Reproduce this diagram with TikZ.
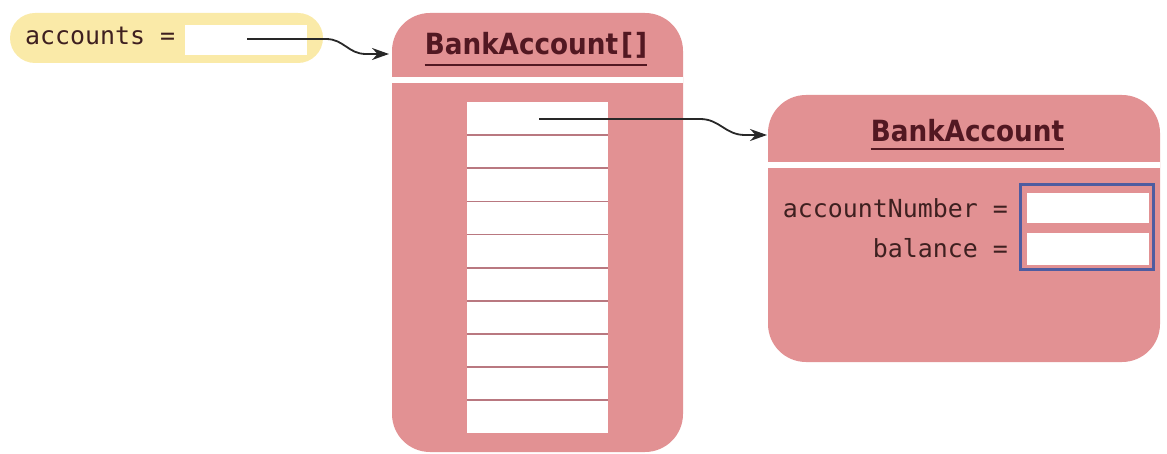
\documentclass[tikz,border=0pt]{standalone}
\usepackage{fontspec}
\usetikzlibrary{arrows.meta}
\newfontfamily\codefont{DejaVu Sans Mono}
\newfontfamily\headfont{DejaVu Sans Condensed}
\definecolor{pinkc}{RGB}{226,145,147}
\definecolor{yellowc}{RGB}{250,234,168}
\definecolor{sepc}{RGB}{185,120,128}
\definecolor{bluec}{RGB}{78,92,160}
\definecolor{txtc}{RGB}{62,32,32}
\definecolor{hdrc}{RGB}{82,24,34}
\definecolor{arrc}{RGB}{40,40,40}
\tikzset{
  objbox/.style={rectangle, rounded corners=38pt, fill=pinkc, inner sep=0pt},
  gapbar/.style={rectangle, fill=white, inner sep=0pt},
  varbox/.style={rectangle, rounded corners=25pt, fill=yellowc, inner sep=0pt},
  field/.style={rectangle, fill=white, inner sep=0pt},
  lbl/.style={font=\codefont\fontsize{24.9}{30}\selectfont, text=txtc, inner sep=0pt},
  hdr/.style={font=\headfont\bfseries\fontsize{29.2}{34}\selectfont, text=hdrc, inner sep=0pt},
  uline/.style={draw=hdrc, line width=2.2pt},
  sepline/.style={draw=sepc, line width=1.8pt},
  ptr/.style={draw=arrc, line width=1.8pt, -{Stealth[length=17pt, width=12pt]}},
}
\begin{document}
\begin{tikzpicture}[x=1pt, y=-1pt]
\useasboundingbox (0,0) rectangle (1167,454);
% variable box
\node[varbox, minimum width=313pt, minimum height=50pt] (var) at (166.5,38) {};
\node[field, minimum width=122pt, minimum height=30pt] (accval) at (246,40) {};
\node[lbl, anchor=base west] (acclbl) at (25,45) {accounts =};
% array object
\node[objbox, minimum width=291pt, minimum height=439pt] (arr) at (537.5,232.5) {};
\node[gapbar, minimum width=291pt, minimum height=6pt] (arrgap) at (537.5,80) {};
\node[hdr, anchor=base] (arrtitle) at (536,55) {BankAccount\kern3pt[\kern2pt]};
\draw[uline] ([yshift=-10pt]arrtitle.base west) -- ([yshift=-10pt]arrtitle.base east);
\foreach \i in {1,...,10}{
  \node[field, minimum width=141pt, minimum height=33.1pt] (cell\i) at (537.5,{102+33.1*(\i-0.5)}) {};
}
\foreach \i in {1,...,9}{
  \draw[sepline] (cell\i.south west) -- (cell\i.south east);
}
% account object
\node[objbox, minimum width=392pt, minimum height=267pt] (acct) at (964,228.5) {};
\node[gapbar, minimum width=392pt, minimum height=6pt] (acctgap) at (964,165) {};
\node[hdr, anchor=base] (accttitle) at (967.5,142) {BankAccount};
\draw[uline] ([yshift=-7pt]accttitle.base west) -- ([yshift=-7pt]accttitle.base east);
\node[rectangle, draw=bluec, line width=3.5pt, minimum width=133pt, minimum height=85pt, inner sep=0pt] (fields) at (1087,227) {};
\node[field, minimum width=122pt, minimum height=30pt] (anum) at (1088,208) {};
\node[field, minimum width=122pt, minimum height=32pt] (bal) at (1088,249) {};
\node[lbl, anchor=base east] (anumlbl) at (1008,218) {accountNumber =};
\node[lbl, anchor=base east] (ballbl) at (1008,258) {balance =};
% pointers
\coordinate (p1) at (247,39);
\coordinate (p1end) at (389,54);
\coordinate (p2) at (539,119);
\coordinate (p2end) at (767,135);
\draw[ptr] (p1) -- (326,39) .. controls (344,39) and (348,54) .. (366,54) -- (p1end);
\draw[ptr] (p2) -- (700,119) .. controls (720,119) and (725,135) .. (745,135) -- (p2end);
\end{tikzpicture}
\end{document}
